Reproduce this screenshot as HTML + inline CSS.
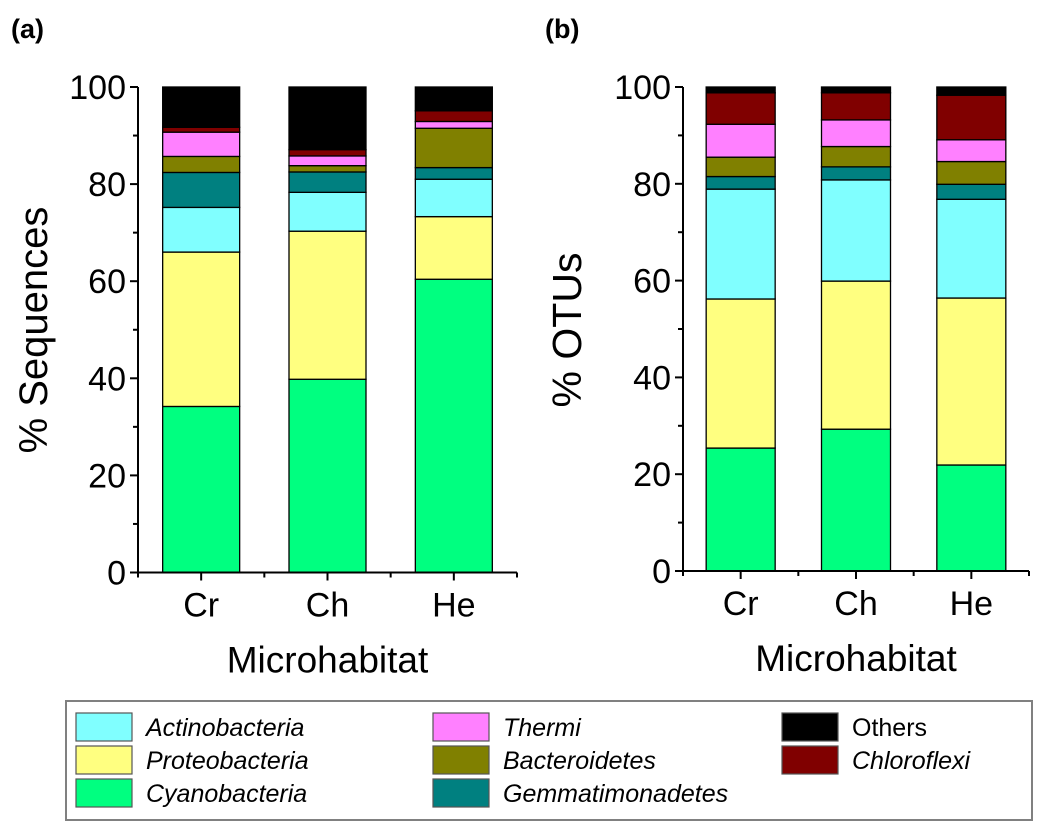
<!DOCTYPE html>
<html><head><meta charset="utf-8"><style>
html,body{margin:0;padding:0;background:#fff}
svg{display:block;font-family:"Liberation Sans",Arial,sans-serif}
</style></head><body>
<svg id="chart" width="1046" height="829" viewBox="0 0 1046 829">
<text x="11" y="38" font-size="27" font-weight="bold">(a)</text>
<text x="545" y="38" font-size="27" font-weight="bold">(b)</text>
<g id="pa"></g>
<g id="pb"></g>
<g id="legend"></g>
</svg>
<script>
const categories = ["Cr","Ch","He"];
const taxa = ["Cyanobacteria","Proteobacteria","Actinobacteria","Gemmatimonadetes","Bacteroidetes","Thermi","Chloroflexi","Others"];
const colors = ["#00ff80","#ffff80","#80ffff","#008080","#808000","#ff80ff","#800000","#000000"];
const seqCr = [34.2,31.8,9.2,7.2,3.3,5.0,1.0,8.3];
const seqCh = [39.8,30.5,8.0,4.2,1.3,2.0,1.3,12.9];
const seqHe = [60.4,12.9,7.7,2.4,8.1,1.4,2.2,4.9];
const otuCr = [25.4,30.8,22.7,2.6,4.0,6.8,6.5,1.2];
const otuCh = [29.3,30.6,20.9,2.7,4.2,5.5,5.6,1.2];
const otuHe = [21.9,34.5,20.4,3.1,4.7,4.5,9.2,1.7];
const yTicks = [0,20,40,60,80,100];
const NS="http://www.w3.org/2000/svg";
function mk(p,tag,at){const e=document.createElementNS(NS,tag);for(const k in at)e.setAttribute(k,at[k]);p.appendChild(e);return e;}
function panel(g,cfg,series,ytitle){
  const y=v=>cfg.y0-(cfg.y0-cfg.y100)*v/100;
  const band=(cfg.x1-cfg.x0)/categories.length;
  const xc=i=>cfg.x0+band*(i+0.5);
  series.forEach((vals,i)=>{
    let acc=0;
    vals.forEach((v,j)=>{
      const r=mk(g,'rect',{x:xc(i)-cfg.bw/2,y:y(acc+v),width:cfg.bw,height:y(acc)-y(acc+v),fill:colors[j],stroke:'#000','stroke-width':1.3});
      
      
      acc+=v;
    });
    const t=mk(g,'text',{x:xc(i),y:cfg.y0+44,'font-size':34,'text-anchor':'middle'});
    t.textContent=categories[i];
    
    
    mk(g,'line',{x1:xc(i),x2:xc(i),y1:cfg.y0,y2:cfg.y0+8,stroke:'#000','stroke-width':2});
  });
  for(let k=0;k<=categories.length;k++){const xx=cfg.x0+band*k;mk(g,'line',{x1:xx,x2:xx,y1:cfg.y0,y2:cfg.y0+5,stroke:'#000','stroke-width':2});}
  const ax=mk(g,'path',{d:`M${cfg.x0},${y(100)}V${cfg.y0}H${cfg.x1}`,fill:'none',stroke:'#000','stroke-width':2});
   
  yTicks.forEach(v=>{
    mk(g,'line',{x1:cfg.x0-8,x2:cfg.x0,y1:y(v),y2:y(v),stroke:'#000','stroke-width':2});
    if(v<100)mk(g,'line',{x1:cfg.x0-5,x2:cfg.x0,y1:y(v+10),y2:y(v+10),stroke:'#000','stroke-width':2});
    const t=mk(g,'text',{x:cfg.x0-12,y:y(v)+12,'font-size':34,'text-anchor':'end'});
    t.textContent=v;
    
    
  });
  const yt=mk(g,'text',{x:0,y:0,'font-size':cfg.ytf,'text-anchor':'middle',transform:`translate(${cfg.ytx},330) rotate(-90)`});
  yt.textContent=ytitle;
  
  
  const xt=mk(g,'text',{x:(cfg.x0+cfg.x1)/2,y:cfg.y0+100,'font-size':37,'text-anchor':'middle'});
  xt.textContent='Microhabitat';
  
  
}
panel(document.getElementById('pa'),{x0:138,x1:517,y0:572.5,y100:87,bw:77,ytx:47,ytf:40},[seqCr,seqCh,seqHe],'% Sequences');
panel(document.getElementById('pb'),{x0:683,x1:1029,y0:571,y100:87,bw:69,ytx:581,ytf:41},[otuCr,otuCh,otuHe],'% OTUs');
const lg=document.getElementById('legend');
const box=mk(lg,'rect',{x:66,y:701,width:966,height:119,fill:'#fff',stroke:'#808080','stroke-width':2});
 
const legendOrder=[[2,0,0],[1,0,1],[0,0,2],[5,1,0],[4,1,1],[3,1,2],[7,2,0],[6,2,1]];
const colX=[76,433,782];
legendOrder.forEach(([j,c,r])=>{
  const yy=713+r*33;
  const s=mk(lg,'rect',{x:colX[c],y:yy,width:56,height:28,fill:colors[j],stroke:'#555','stroke-width':1.2});
  
  
  const t=mk(lg,'text',{x:colX[c]+70,y:yy+23,'font-size':25,'font-style':taxa[j]==='Others'?'normal':'italic'});
  t.textContent=taxa[j];
  
  
});
</script>
</body></html>
